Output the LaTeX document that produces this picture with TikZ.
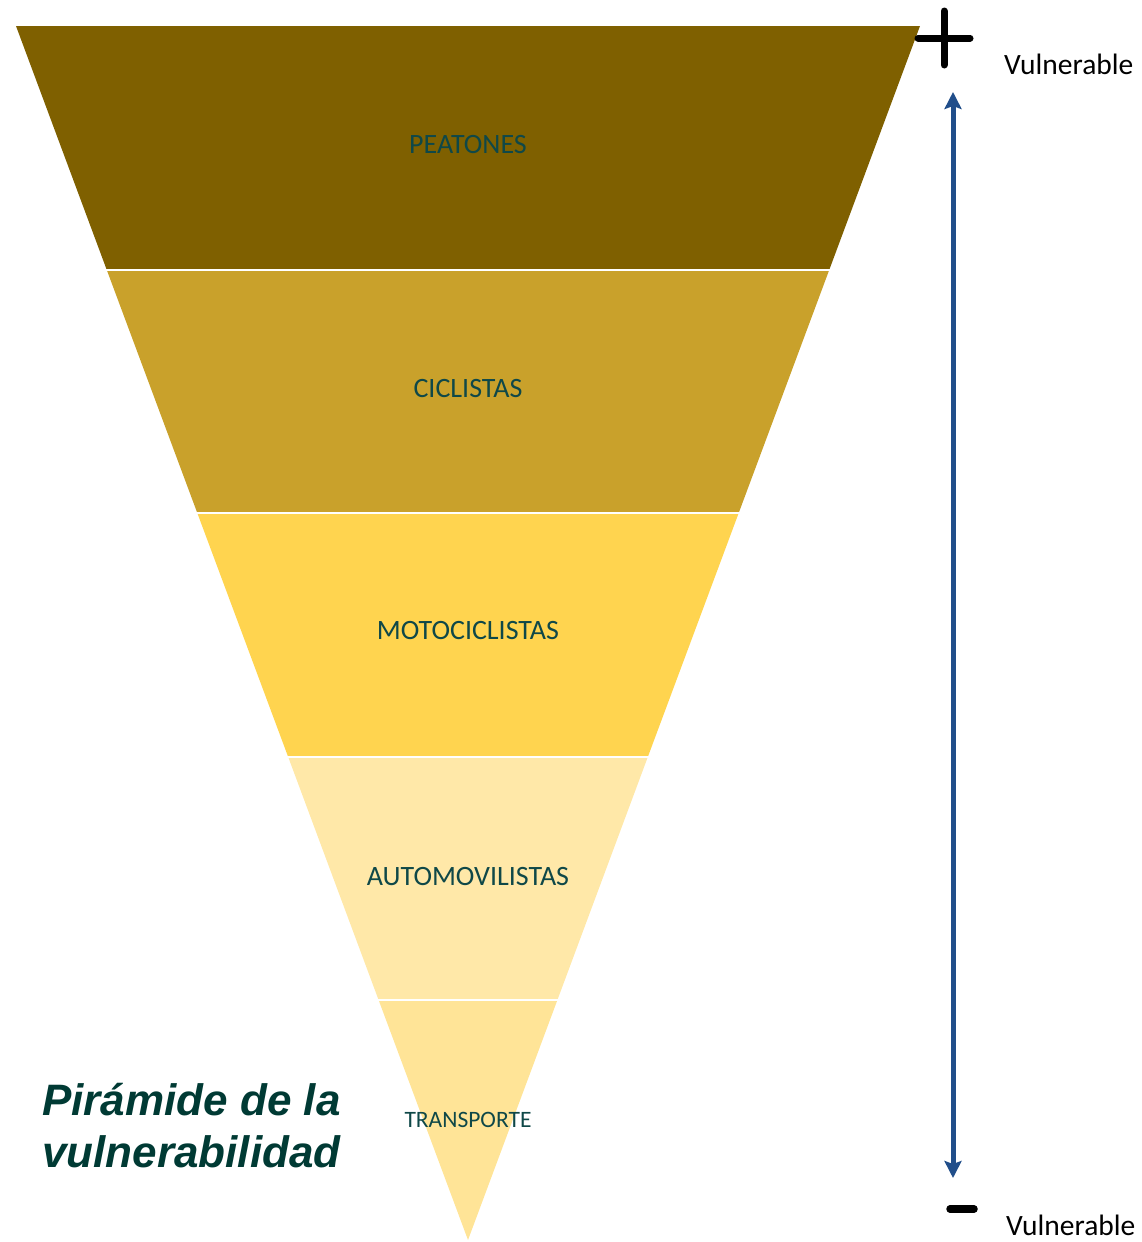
\documentclass[tikz,border=0pt]{standalone}
\usepackage{fontspec}
\setmainfont{Carlito}
\newfontfamily\titlefont{Liberation Sans}
\usetikzlibrary{arrows.meta}
\definecolor{bandA}{HTML}{7F6000}
\definecolor{bandB}{HTML}{C9A12B}
\definecolor{bandC}{HTML}{FFD44F}
\definecolor{bandD}{HTML}{FFE8A8}
\definecolor{bandE}{HTML}{FFE497}
\definecolor{labtxt}{HTML}{0F4848}
\definecolor{titletxt}{HTML}{003A34}
\definecolor{arrowblue}{HTML}{214E8A}
\tikzset{
  sep/.style={draw=white, line width=2pt},
  lab/.style={font=\fontsize{28}{32}\selectfont, text=labtxt, inner sep=0pt},
  vul/.style={font=\fontsize{29.5}{34}\selectfont, text=black, inner sep=0pt, anchor=west},
  sign/.style={draw=black, line cap=round},
}
\begin{document}
\begin{tikzpicture}[x=1pt,y=-1pt]
\useasboundingbox (0,0) rectangle (1142,1242);
% bands
\fill[bandA] (16,26) -- (920,26) -- (829.2,270) -- (106.8,270) -- cycle;
\fill[bandB] (106.8,270) -- (829.2,270) -- (738.7,513) -- (197.3,513) -- cycle;
\fill[bandC] (197.3,513) -- (738.7,513) -- (647.8,757) -- (288.2,757) -- cycle;
\fill[bandD] (288.2,757) -- (647.8,757) -- (557.4,1000) -- (378.6,1000) -- cycle;
\fill[bandE] (378.6,1000) -- (557.4,1000) -- (468,1240) -- cycle;
\draw[sep] (100,270) -- (836,270);
\draw[sep] (190,513) -- (746,513);
\draw[sep] (280,757) -- (656,757);
\draw[sep] (370,1000) -- (566,1000);
% labels
\node[lab] (peatones) at (468,145) {PEATONES};
\node[lab] (ciclistas) at (468,389) {CICLISTAS};
\node[lab] (moto) at (468,631) {MOTOCICLISTAS};
\node[lab] (auto) at (468,877) {AUTOMOVILISTAS};
\node[lab, font=\fontsize{23.5}{28}\selectfont] (transporte) at (468,1120) {TRANSPORTE};
% title
\node[font=\titlefont\bfseries\itshape\fontsize{44}{52}\selectfont, text=titletxt, align=left, anchor=north west, inner sep=0pt] (title) at (42,1083) {Pirámide de la\\vulnerabilidad};
% signs
\draw[sign, line width=7pt] (918,38) -- (970,38);
\draw[sign, line width=7pt] (944,11) -- (944,65);
\draw[sign, line width=7.5pt] (950,1209) -- (974,1209);
\node[vul] (vtop) at (1004,64) {Vulnerable};
\node[vul] (vbot) at (1006,1225) {Vulnerable};
% arrow
\coordinate (atop) at (953,92);
\coordinate (abot) at (953,1178);
\draw[arrowblue, line width=5pt, {Stealth[length=17pt,width=17pt,inset=3pt]}-{Stealth[length=17pt,width=17pt,inset=3pt]}] (atop) -- (abot);
\end{tikzpicture}
\end{document}
